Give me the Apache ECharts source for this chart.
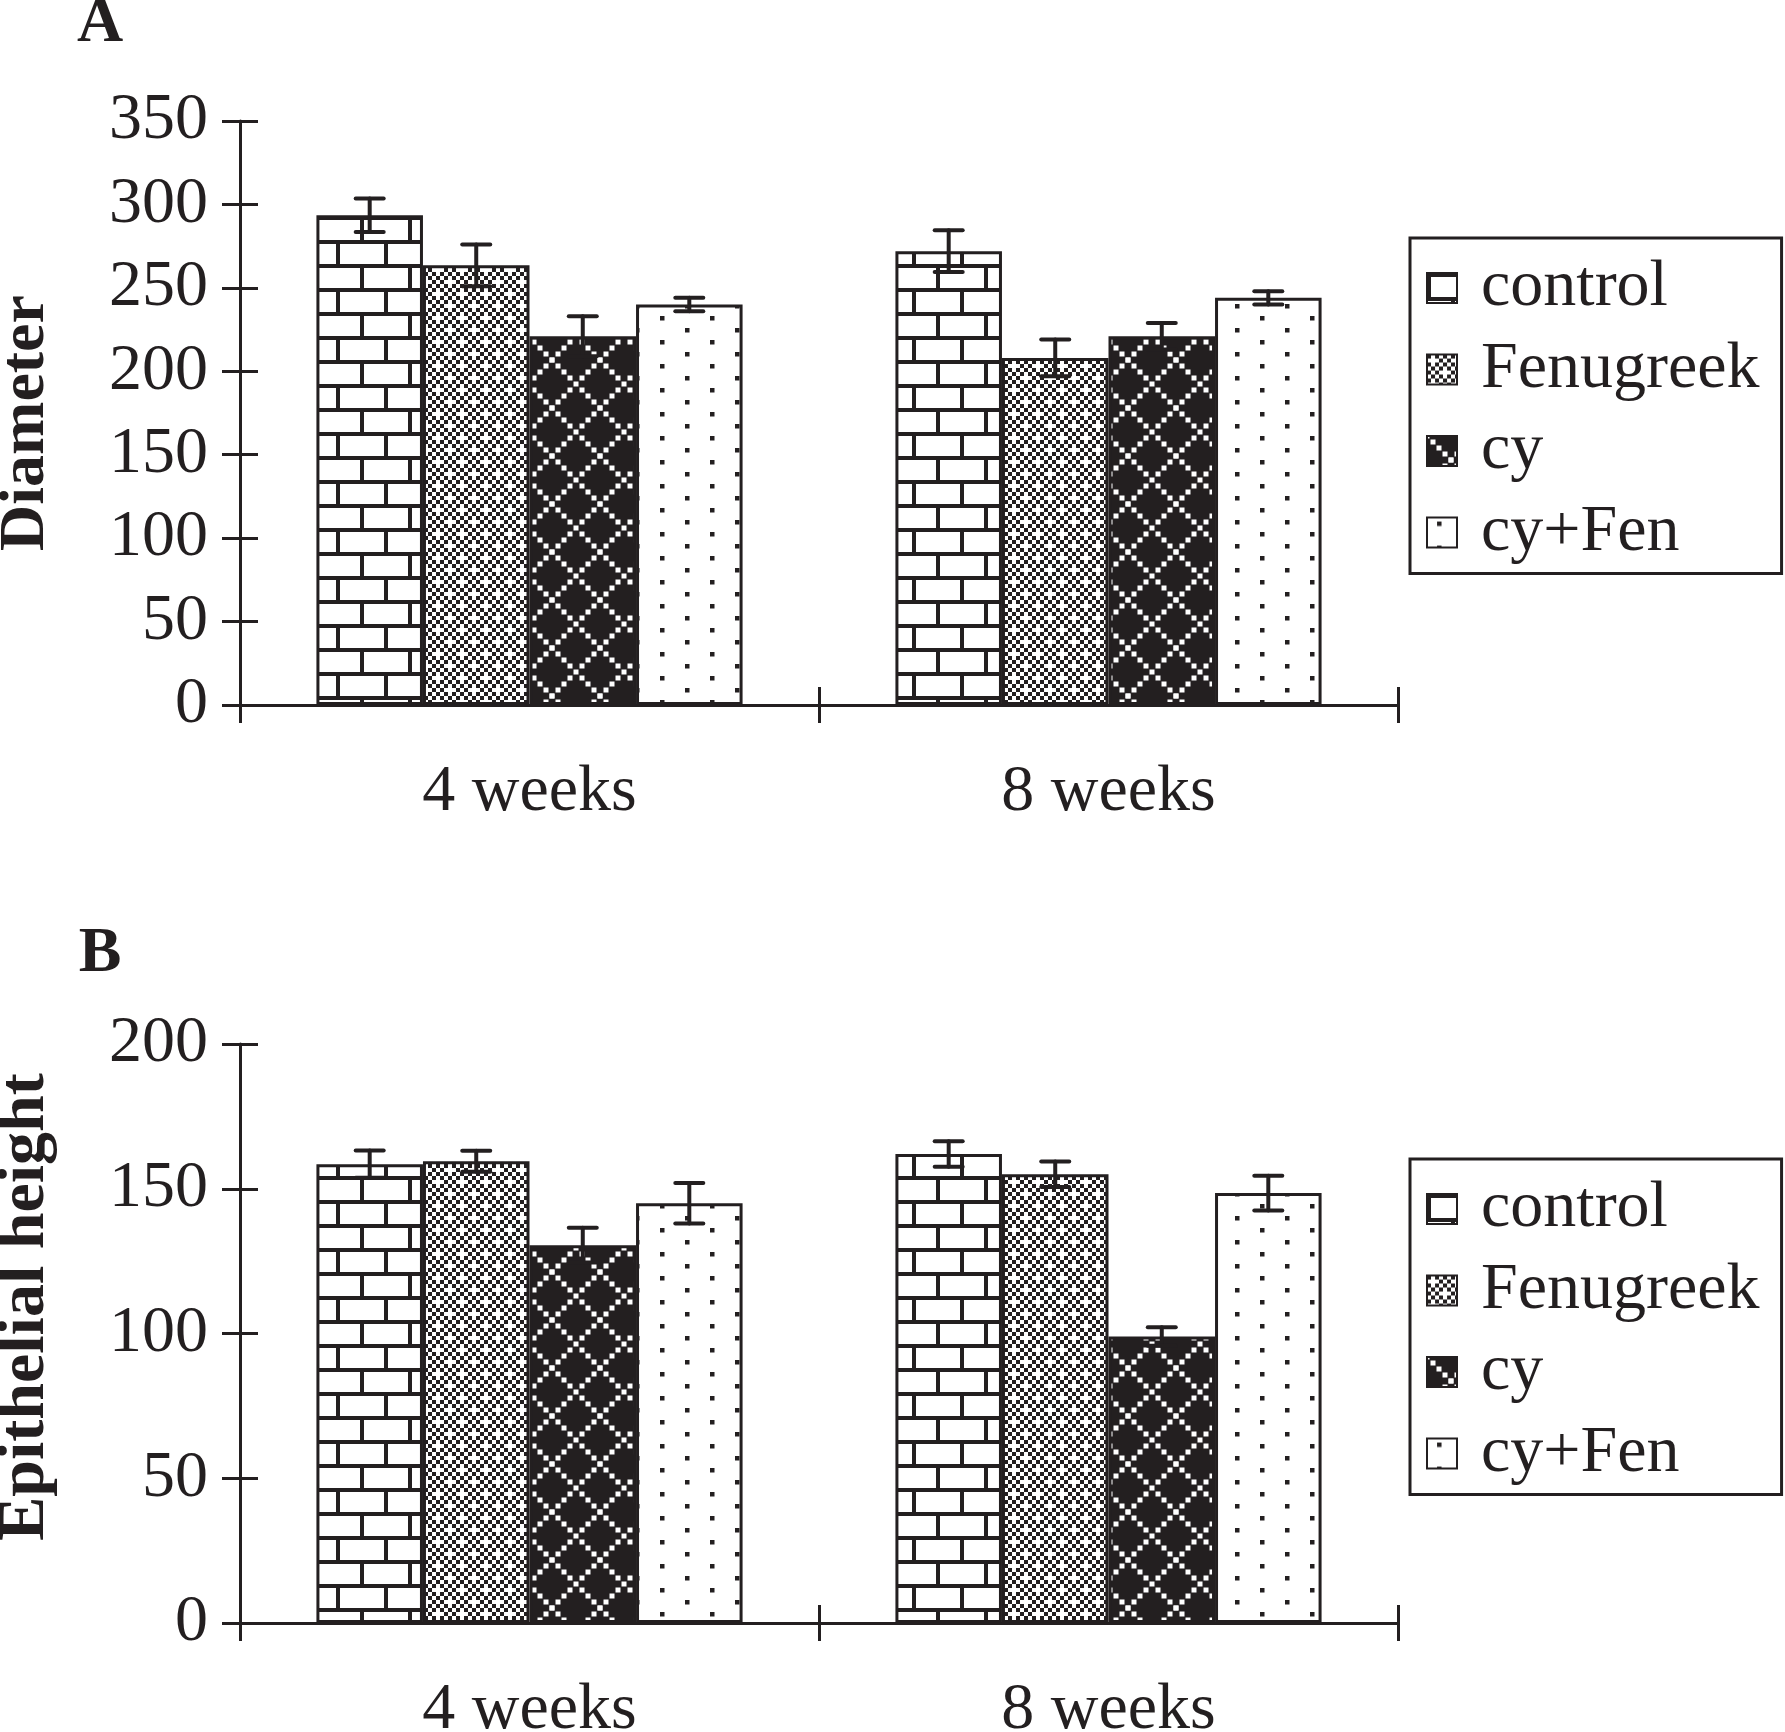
<!DOCTYPE html>
<html>
<head>
<meta charset="utf-8">
<script src="https://cdn.jsdelivr.net/npm/echarts@6/dist/echarts.min.js"></script>
<style>
  html, body { margin: 0; padding: 0; background: #fff; }
  #main { width: 1785px; height: 1732px; }
</style>
</head>
<body>
<div id="main"></div>
<script>
// categories and groups
var categories = ['4 weeks', '8 weeks'];
var groups = ['control', 'Fenugreek', 'cy', 'cy+Fen'];

// panel A - diameter
var diamControl = [293.5, 272];
var diamFen = [263.5, 208];
var diamCy = [221, 221];
var diamCyFen = [240, 244];
var diamControlErr = [10, 12.5];
var diamFenErr = [12.5, 11];
var diamCyErr = [12, 8];
var diamCyFenErr = [4, 4];
var diamTicks = { min: 0, max: 350, interval: 50 };

// panel B - epithelial height
var epiControl = [158.5, 162];
var epiFen = [159.5, 155];
var epiCy = [130.5, 99];
var epiCyFen = [145, 148.5];
var epiControlErr = [4.7, 4.4];
var epiFenErr = [3.6, 4.4];
var epiCyErr = [6, 3.2];
var epiCyFenErr = [7, 6];
var epiTicks = { min: 0, max: 200, interval: 50 };

var INK = '#231f20';
var FONT = '"Liberation Serif", "Times New Roman", serif';
var GAP = 0.264; // barCategoryGap

// ---- fill patterns ----
function tile(w, h, draw) {
    var c = document.createElement('canvas');
    c.width = w; c.height = h;
    draw(c.getContext('2d'), w, h);
    return { image: c, repeat: 'repeat' };
}
var brick = tile(48, 48, function (g, w, h) {
    g.fillStyle = '#fff'; g.fillRect(0, 0, w, h);
    g.fillStyle = INK;
    g.fillRect(0, 0, w, 4);
    g.fillRect(0, 24, w, 4);
    g.fillRect(0, 0, 4, 24);
    g.fillRect(24, 24, 4, 24);
});
var checker = tile(24, 24, function (g, w, h) {
    g.fillStyle = '#fff'; g.fillRect(0, 0, w, h);
    g.fillStyle = INK;
    for (var y = 0; y < h; y += 4) {
        for (var x = 0; x < w; x += 4) {
            if (((x + y) / 4) % 2 === 0) g.fillRect(x, y, 4, 4);
        }
    }
    g.fillStyle = '#fff';
    [[6, 6], [18, 18]].forEach(function (p) {
        g.fillRect(p[0] - 2, p[1] - 5, 4, 10);
        g.fillRect(p[0] - 5, p[1] - 2, 10, 4);
    });
});
var lattice = tile(48, 48, function (g, w, h) {
    g.fillStyle = INK; g.fillRect(0, 0, w, h);
    g.fillStyle = '#fff';
    for (var t = 0; t <= 48; t += 6) {
        g.fillRect(t - 2.5, t - 2.5, 5, 5);
        g.fillRect(t - 2.5, 48 - t - 2.5, 5, 5);
    }
});
var dots = tile(50, 24, function (g, w, h) {
    g.fillStyle = '#fff'; g.fillRect(0, 0, w, h);
    g.fillStyle = INK;
    g.fillRect(10, 4, 4.5, 4.5);
    g.fillRect(35, 16, 4.5, 4.5);
});
var fills = [brick, checker, lattice, dots];

var myChart = echarts.init(document.getElementById('main'), null, { renderer: 'canvas' });

function errData(vals, errs) {
    var out = [];
    for (var s = 0; s < vals.length; s++) {
        for (var c = 0; c < vals[s].length; c++) {
            out.push([c, s, vals[s][c], errs[s][c]]);
        }
    }
    return out;
}

function renderErr(params, api) {
    var ci = api.value(0), si = api.value(1), v = api.value(2), e = api.value(3);
    var band = api.size([1, 0])[0];
    var bw = band * (1 - GAP) / 4;
    var x = api.coord([ci, v])[0] + (si - 1.5) * bw;
    var yt = api.coord([ci, v + e])[1];
    var yb = api.coord([ci, v - e])[1];
    var hw = 14;
    var st = { stroke: INK, lineWidth: 4, lineCap: 'round' };
    return {
        type: 'group',
        children: [
            { type: 'line', shape: { x1: x, y1: yt, x2: x, y2: yb }, style: st },
            { type: 'line', shape: { x1: x - hw, y1: yt, x2: x + hw, y2: yt }, style: st },
            { type: 'line', shape: { x1: x - hw, y1: yb, x2: x + hw, y2: yb }, style: st }
        ]
    };
}

function xAxes(gi) {
    return [
        {
            gridIndex: gi, type: 'category', data: categories,
            axisLine: { lineStyle: { color: INK, width: 3 } },
            axisTick: { show: true, length: 18, alignWithLabel: false, lineStyle: { color: INK, width: 3 } },
            axisLabel: { color: INK, fontFamily: FONT, fontSize: 66, margin: 55 },
            splitLine: { show: false }
        },
        {
            gridIndex: gi, type: 'category', data: categories, position: 'bottom',
            axisLine: { show: false },
            axisTick: { show: true, inside: true, length: 18, lineStyle: { color: INK, width: 3 } },
            axisLabel: { show: false },
            splitLine: { show: false }
        }
    ];
}
function yAxes(gi, t) {
    return [
        {
            gridIndex: gi, type: 'value', min: t.min, max: t.max, interval: t.interval,
            axisLine: { show: true, lineStyle: { color: INK, width: 3 } },
            axisTick: { show: true, length: 18, lineStyle: { color: INK, width: 3 } },
            axisLabel: { color: INK, fontFamily: FONT, fontSize: 66, margin: 32 },
            splitLine: { show: false }
        },
        {
            gridIndex: gi, type: 'value', min: t.min, max: t.max, interval: t.interval, position: 'left',
            axisLine: { show: false },
            axisTick: { show: true, inside: true, length: 18, lineStyle: { color: INK, width: 3 } },
            axisLabel: { show: false },
            splitLine: { show: false }
        }
    ];
}

function barSeries(gi, vals) {
    return vals.map(function (d, i) {
        return {
            name: groups[i], type: 'bar', data: d,
            xAxisIndex: gi * 2, yAxisIndex: gi * 2,
            barGap: '0%', barCategoryGap: (GAP * 100) + '%',
            itemStyle: { color: fills[i], borderColor: INK, borderWidth: 3 },
            emphasis: { disabled: true }
        };
    });
}

function legend(top) {
    return {
        orient: 'vertical', left: 1410, top: top,
        data: groups,
        icon: 'rect', itemWidth: 30, itemHeight: 30, itemGap: 15.5,
        borderColor: INK, borderWidth: 3, borderRadius: 0,
        padding: [17, 22, 8, 16],
        backgroundColor: '#fff',
        selectedMode: false,
        textStyle: { color: INK, fontFamily: FONT, fontSize: 66, padding: [0, 0, 0, 19] }
    };
}

var diamVals = [diamControl, diamFen, diamCy, diamCyFen];
var diamErrs = [diamControlErr, diamFenErr, diamCyErr, diamCyFenErr];
var epiVals = [epiControl, epiFen, epiCy, epiCyFen];
var epiErrs = [epiControlErr, epiFenErr, epiCyErr, epiCyFenErr];

var option = {
    backgroundColor: '#fff',
    animation: false,
    grid: [
        { left: 240, top: 121, width: 1158, height: 584, outerBoundsMode: 'none', containLabel: false },
        { left: 240, top: 1044, width: 1158, height: 579, outerBoundsMode: 'none', containLabel: false }
    ],
    legend: [legend(238), legend(1159)],
    xAxis: xAxes(0).concat(xAxes(1)),
    yAxis: yAxes(0, diamTicks).concat(yAxes(1, epiTicks)),
    series: barSeries(0, diamVals).concat(barSeries(1, epiVals)).concat([
        {
            type: 'custom', xAxisIndex: 0, yAxisIndex: 0, z: 5,
            renderItem: renderErr, data: errData(diamVals, diamErrs),
            encode: { x: 0, y: 2 }, silent: true
        },
        {
            type: 'custom', xAxisIndex: 2, yAxisIndex: 2, z: 5,
            renderItem: renderErr, data: errData(epiVals, epiErrs),
            encode: { x: 0, y: 2 }, silent: true
        }
    ]),
    graphic: [
        { type: 'text', x: 100, y: 24, style: { text: 'A', font: 'bold 64px ' + FONT, fill: INK, align: 'center', verticalAlign: 'middle' } },
        { type: 'text', x: 100, y: 954, style: { text: 'B', font: 'bold 64px ' + FONT, fill: INK, align: 'center', verticalAlign: 'middle' } },
        { type: 'text', x: 26, y: 423, rotation: Math.PI / 2, style: { text: 'Diameter', font: 'bold 64px ' + FONT, fill: INK, align: 'center', verticalAlign: 'middle' } },
        { type: 'text', x: 26, y: 1307, rotation: Math.PI / 2, style: { text: 'Epithelial height', font: 'bold 66px ' + FONT, fill: INK, align: 'center', verticalAlign: 'middle' } }
    ]
};
myChart.setOption(option);
</script>
</body>
</html>
